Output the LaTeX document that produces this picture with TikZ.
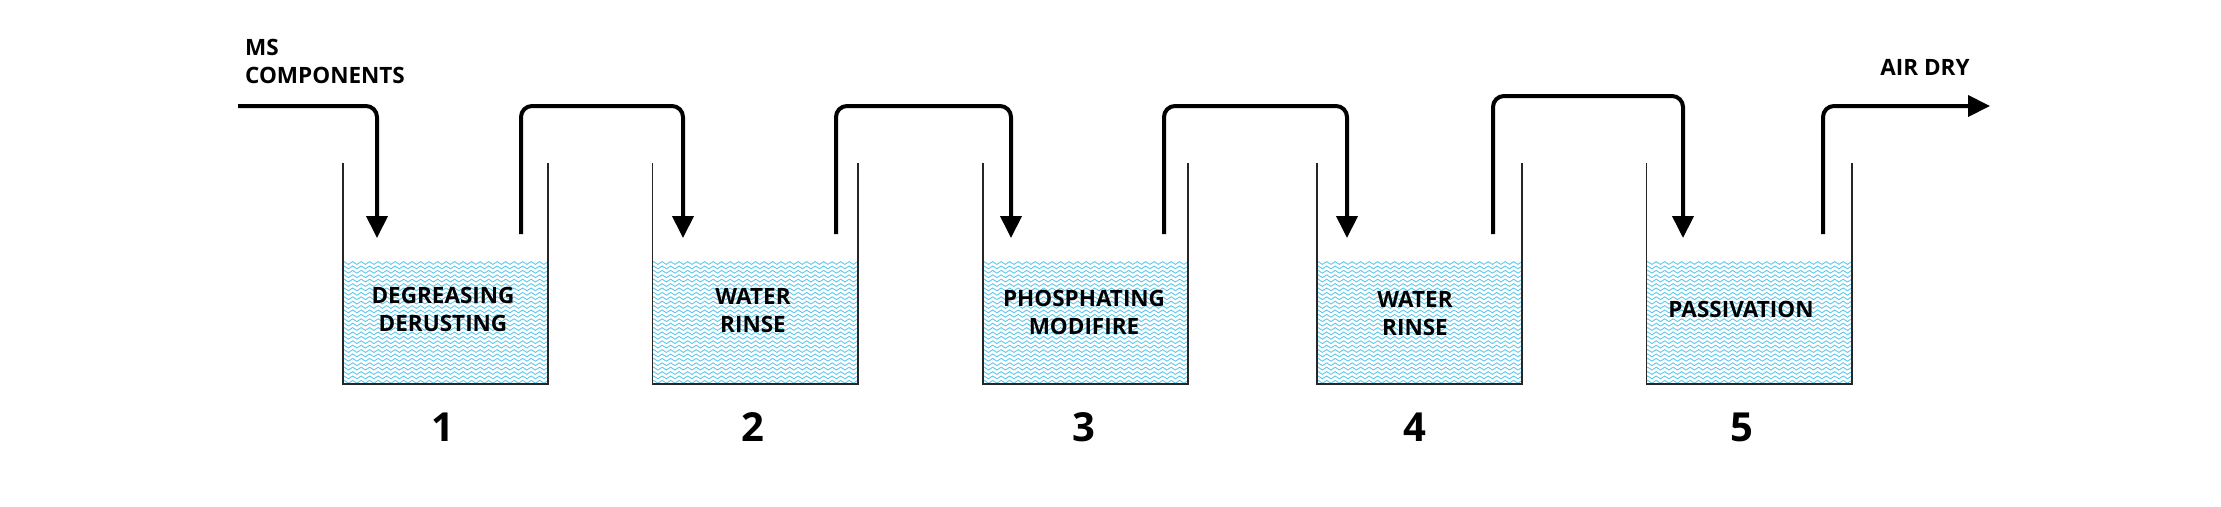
\documentclass[tikz,border=0pt]{standalone}
\usepackage{fontspec}
\setmainfont{Open Sans}
\newfontfamily\labfont{Open Sans}
\usetikzlibrary{arrows.meta,decorations.pathmorphing}
\definecolor{waterblue}{RGB}{95,200,235}
\tikzset{
  tankbox/.style={draw=none,minimum width=205pt,minimum height=221pt,inner sep=0pt},
  wall/.style={draw=black!85,line width=1.6pt},
  pipe/.style={draw=black,line width=4pt,rounded corners=11pt},
  flowarrow/.style={pipe,-{Triangle[width=21pt,length=22pt]}},
  wave/.style={draw=waterblue,line width=0.9pt,decorate,decoration={snake,segment length=8.5pt,amplitude=1.4pt}},
  tanklabel/.style={font=\labfont\bfseries\fontsize{22.5}{28}\selectfont,align=center,inner sep=0pt},
  numlabel/.style={font=\bfseries\fontsize{40}{40}\selectfont,inner sep=0pt},
  toplabel/.style={font=\labfont\bfseries\fontsize{22.5}{28}\selectfont,align=left,inner sep=0pt}
}
\newcommand\mywater[2]{%
  \begin{scope}
    \clip (#1,259) rectangle (#2,383.5);
    \foreach \k in {0,...,27} {
      \draw[wave] (#1-10,263+\k*4.4) -- (#2+10,263+\k*4.4);
    }
  \end{scope}}
\begin{document}
\begin{tikzpicture}[x=1pt,y=-1pt]
\useasboundingbox (0,0) rectangle (2221,506);
% tanks
\node[tankbox] (t1) at (445.5,273.5) {};
\node[tankbox] (t2) at (755,273.5) {};
\node[tankbox] (t3) at (1085.5,273.5) {};
\node[tankbox] (t4) at (1419.5,273.5) {};
\node[tankbox] (t5) at (1749,273.5) {};
% water
\mywater{343}{548}
\mywater{652.5}{857.5}
\mywater{983}{1188}
\mywater{1317}{1522}
\mywater{1646.5}{1851.5}
% walls
\foreach \t in {t1,t2,t3,t4,t5} {
  \draw[wall] (\t.north west) -- (\t.south west) -- (\t.south east) -- (\t.north east);
}
% labels
\node[tanklabel] (l1) at (443,309) {DEGREASING\\DERUSTING};
\node[tanklabel] (l2) at (753,311) {WATER\\RINSE};
\node[tanklabel] (l3) at (1084,312) {PHOSPHATING\\MODIFIRE};
\node[tanklabel] (l4) at (1415,314) {WATER\\RINSE};
\node[tanklabel] (l5) at (1741,309) {PASSIVATION};
% numbers
\node[numlabel] (n1) at (443,427) {1};
\node[numlabel] (n2) at (753,427) {2};
\node[numlabel] (n3) at (1084,427) {3};
\node[numlabel] (n4) at (1415,427) {4};
\node[numlabel] (n5) at (1742,427) {5};
% top labels
\node[toplabel,anchor=west] (ms) at (245,61) {MS\\COMPONENTS};
\node[toplabel] (air) at (1925,67) {AIR DRY};
% pipe coordinates
\coordinate (inS) at (238,106);
\coordinate (inE) at (377,238);
\coordinate (a1) at (521,234); \coordinate (b1) at (683,238);
\coordinate (a2) at (836,234); \coordinate (b2) at (1011,238);
\coordinate (a3) at (1164,234); \coordinate (b3) at (1347,238);
\coordinate (a4) at (1493,234); \coordinate (b4) at (1683,238);
\coordinate (a5) at (1823,234); \coordinate (outE) at (1990,106);
% pipes
\draw[flowarrow] (inS) -| (inE);
\draw[flowarrow] (a1) -- (521,106) -| (b1);
\draw[flowarrow] (a2) -- (836,106) -| (b2);
\draw[flowarrow] (a3) -- (1164,106) -| (b3);
\draw[flowarrow] (a4) -- (1493,96) -| (b4);
\draw[flowarrow] (a5) |- (outE);
\end{tikzpicture}
\end{document}
